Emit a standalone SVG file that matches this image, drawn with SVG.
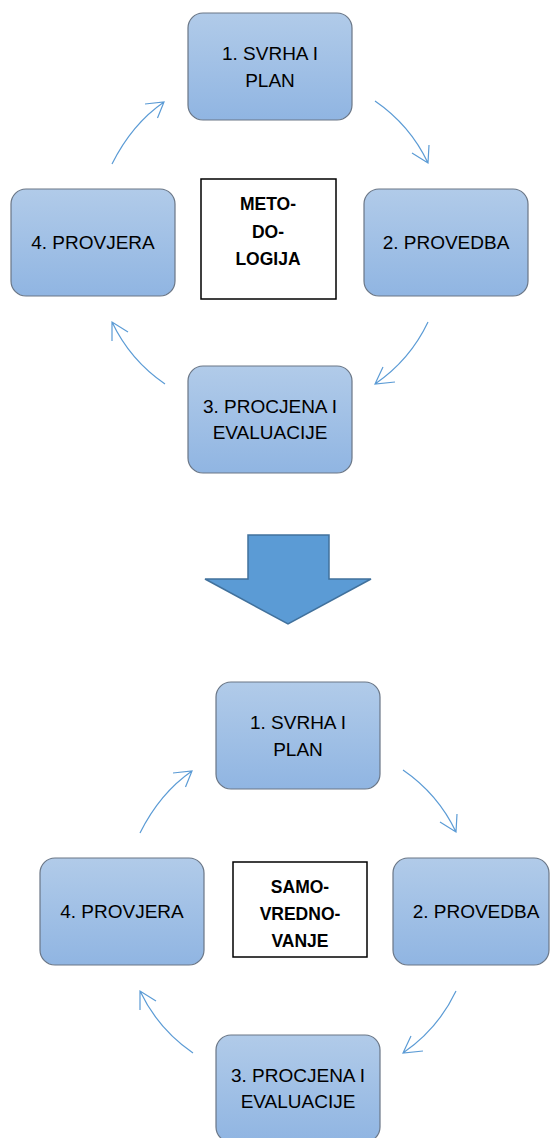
<svg xmlns="http://www.w3.org/2000/svg" width="550" height="1138" viewBox="0 0 550 1138">
<defs>
<linearGradient id="g" x1="0" y1="0" x2="0" y2="1">
<stop offset="0" stop-color="#B1CBE9"/>
<stop offset="1" stop-color="#90B5E2"/>
</linearGradient>
<style>
.n{fill:url(#g);stroke:#6A7686;stroke-width:1.2}
.t{font-family:"Liberation Sans",Arial,sans-serif;font-size:19px;fill:#000;text-anchor:middle}
.c{fill:#fff;stroke:#000;stroke-width:1.5}
.b{font-family:"Liberation Sans",Arial,sans-serif;font-size:17.5px;font-weight:bold;fill:#000;text-anchor:middle}
.a{fill:none;stroke:#5B9BD5;stroke-width:1.2}
</style>
</defs>
<rect width="550" height="1138" fill="#fff"/>

<g id="connectors">
<g id="top-connectors">
<path class="a" d="M112,164 Q132,124 164,102 M145,104 L164,102 L157.5,118"/>
<path class="a" d="M375,101 Q410,125 428,163 M412,153 L428,163 L429,145"/>
<path class="a" d="M428,322 Q410,360 375,384 M383,367 L375,384 L395,382"/>
<path class="a" d="M165,384 Q130,360 112,322 M112,341 L112,322 L128,332"/>
</g>
<g id="bottom-connectors" transform="translate(28,669)">
<path class="a" d="M112,164 Q132,124 164,102 M145,104 L164,102 L157.5,118"/>
<path class="a" d="M375,101 Q410,125 428,163 M412,153 L428,163 L429,145"/>
<path class="a" d="M428,322 Q410,360 375,384 M383,367 L375,384 L395,382"/>
<path class="a" d="M165,384 Q130,360 112,322 M112,341 L112,322 L128,332"/>
</g>
<g id="big-arrow">
<path d="M248,535 L329,535 L329,579 L371,579 L288,624 L205,579 L248,579 Z" fill="#5B9BD5" stroke="#41719C" stroke-width="1.5"/>
</g>
</g>

<g id="top1"><rect class="n" x="188" y="13" width="164" height="107" rx="15"/><text class="t" x="270" y="60">1. SVRHA I</text><text class="t" x="270" y="87">PLAN</text></g>
<g id="top2"><rect class="n" x="364" y="189" width="164" height="107" rx="15"/><text class="t" x="446" y="249">2. PROVEDBA</text></g>
<g id="top3"><rect class="n" x="188" y="366" width="164" height="107" rx="15"/><text class="t" x="270" y="413">3. PROCJENA I</text><text class="t" x="270" y="439">EVALUACIJE</text></g>
<g id="top4"><rect class="n" x="11" y="189" width="164" height="107" rx="15"/><text class="t" x="93" y="249">4. PROVJERA</text></g>
<g id="top-center"><rect class="c" x="201" y="179" width="135" height="120"/><text class="b" x="268" y="210">METO-</text><text class="b" x="268" y="238">DO-</text><text class="b" x="268" y="265">LOGIJA</text></g>

<g id="bot1"><rect class="n" x="216" y="682" width="164" height="107" rx="15"/><text class="t" x="298" y="729">1. SVRHA I</text><text class="t" x="298" y="756">PLAN</text></g>
<g id="bot2"><rect class="n" x="393" y="858" width="156" height="107" rx="15"/><text class="t" x="476" y="918">2. PROVEDBA</text></g>
<g id="bot3"><rect class="n" x="216" y="1035" width="164" height="107" rx="15"/><text class="t" x="298" y="1082">3. PROCJENA I</text><text class="t" x="298" y="1108">EVALUACIJE</text></g>
<g id="bot4"><rect class="n" x="40" y="858" width="164" height="107" rx="15"/><text class="t" x="122" y="918">4. PROVJERA</text></g>
<g id="bot-center"><rect class="c" x="233" y="862" width="134" height="95"/><text class="b" x="300" y="893">SAMO-</text><text class="b" x="300" y="920">VREDNO-</text><text class="b" x="300" y="947">VANJE</text></g>
</svg>
